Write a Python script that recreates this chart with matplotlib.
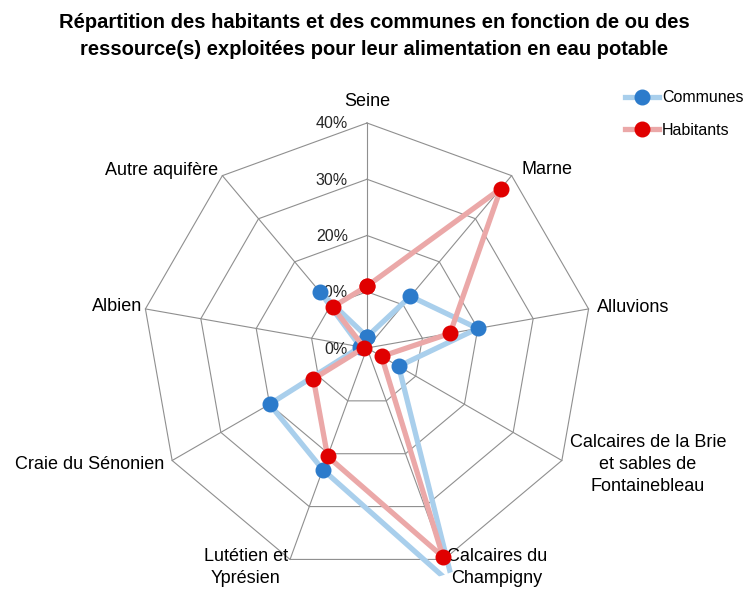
import numpy as np
import matplotlib.pyplot as plt

# valeurs (%)
categories = ["Seine", "Marne", "Alluvions",
              "Calcaires de la Brie\net sables de\nFontainebleau",
              "Calcaires du\nChampigny", "Lutétien et\nYprésien",
              "Craie du Sénonien", "Albien", "Autre aquifère"]
communes = [2, 12, 20, 6.5, 45, 23, 20, 1.2, 13]
habitants = [11, 37, 15, 3, 39.5, 20.5, 11, 0.5, 9.5]
rings = [0, 10, 20, 30, 40]
ring_labels = ["0%", "10%", "20%", "30%", "40%"]

plt.rcParams['font.family'] = ['Liberation Sans', 'DejaVu Sans']

W, H = 750, 589
fig = plt.figure(figsize=(W / 100, H / 100), dpi=100)

# centre du radar et rayon (pixels) pour 40 %
cx, cy, R40 = 367, 348, 225
rmax = 42.6
Rpx = R40 * rmax / 40
ax = fig.add_axes([(cx - Rpx) / W, (H - cy - Rpx) / H, 2 * Rpx / W, 2 * Rpx / H],
                  projection='polar')
ax.set_theta_zero_location('N')
ax.set_theta_direction(-1)
ax.set_ylim(0, rmax)
ax.grid(False)
ax.spines['polar'].set_visible(False)
ax.set_xticks([])
ax.set_yticks([])
ax.patch.set_alpha(0)

n = len(categories)
theta = np.arange(n) * 2 * np.pi / n
closed = np.append(theta, theta[0])

grid_c = '#8f8f8f'
for r in rings[1:]:
    ax.plot(closed, [r] * (n + 1), color=grid_c, lw=0.8, zorder=1)
for t in theta:
    ax.plot([t, t], [0, rings[-1]], color=grid_c, lw=0.8, zorder=1)

for r, lab in zip(rings, ring_labels):
    ax.annotate(lab, xy=(0, r), xytext=(-19, -1), textcoords='offset pixels',
                ha='right', va='center', fontsize=11.5, color='#262626')

# series
l1, = ax.plot(closed, communes + communes[:1], color='#a9cfec', lw=3.8,
              marker='o', ms=10.5, mfc='#2c7bcb', mec='#2c7bcb', zorder=3,
              label='Communes')
l2, = ax.plot(closed, habitants + habitants[:1], color='#eba8a8', lw=3.8,
              marker='o', ms=10.5, mfc='#e00000', mec='#e00000', zorder=4,
              label='Habitants')

# libellés des axes
offsets = [(0, 22, 'center'), (10, 6, 'left'), (8, 1, 'left'),
           (8, -4, 'left'), (3, -8, 'left'), (-2, -8, 'right'),
           (-8, -4, 'right'), (-3, 2, 'right'), (-4, 5, 'right')]
for t, lab, (dx, dy, ha) in zip(theta, categories, offsets):
    ax.annotate(lab, xy=(t, rings[-1]), xytext=(dx, dy), textcoords='offset pixels',
                ha=ha, va='center', multialignment='center', fontsize=13,
                color='#000000', annotation_clip=False, linespacing=1.4)

fig.legend(handles=[l1, l2], loc='upper left', bbox_to_anchor=(619 / W, 1 - 84 / H),
           frameon=False, fontsize=11.5, handlelength=2.1, handletextpad=0.2,
           labelspacing=1.1, numpoints=1, borderaxespad=0)

fig.text(0.499, 1 - 36 / H,
         "Répartition des habitants et des communes en fonction de ou des\n"
         "ressource(s) exploitées pour leur alimentation en eau potable",
         ha='center', va='center', fontsize=14.5, fontweight='bold', linespacing=1.5)

fig.savefig('out.png', dpi=100)
